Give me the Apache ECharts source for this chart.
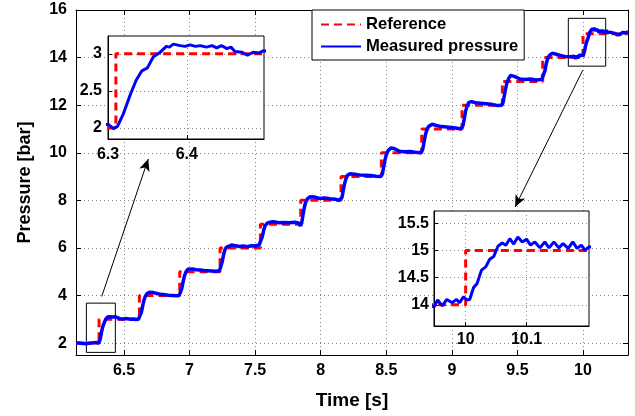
<!DOCTYPE html>
<html>
<head>
<meta charset="utf-8">
<script src="https://cdn.jsdelivr.net/npm/echarts@6/dist/echarts.min.js"></script>
<style>
html,body{margin:0;padding:0;background:#fff;}
#chart{width:635px;height:416px;}
</style>
</head>
<body>
<div id="chart"></div>
<script>
// Reference (step) signal: level holds from each time until the next one
const refTimes  = [6.134, 6.31, 6.6175, 6.925, 7.2325, 7.54, 7.8475, 8.155, 8.4625, 8.77, 9.0775, 9.385, 9.6925, 10.0, 10.343];
const refLevels = [2, 3, 4, 5, 6, 7, 8, 9, 10, 11, 12, 13, 14, 15, 15];

// Measured pressure [time s, pressure bar]
const measured = [
[6.134,2.00],[6.15,2.01],[6.17,1.99],[6.19,1.98],[6.21,1.97],[6.23,1.99],[6.25,2.00],[6.27,2.02],[6.29,2.03],
[6.300,2.05],[6.307,1.99],[6.312,2.02],[6.3195,2.19],[6.328,2.44],[6.3356,2.64],[6.343,2.77],[6.35,2.81],[6.3576,2.96],[6.365,3.01],[6.374,3.10],[6.378,3.09],[6.383,3.13],[6.3915,3.11],[6.398,3.10],[6.404,3.12],[6.411,3.10],[6.417,3.11],[6.425,3.09],[6.432,3.11],[6.438,3.08],[6.444,3.11],[6.451,3.07],[6.456,3.09],[6.461,3.03],[6.470,3.02],[6.477,2.98],[6.484,3.02],[6.491,3.01],[6.497,3.04],
[6.51,3.03],[6.53,3.02],[6.55,3.00],[6.57,3.01],[6.59,2.99],[6.61,3.00],
[6.622,3.04],[6.632,3.28],[6.642,3.55],[6.652,3.80],[6.662,3.96],[6.675,4.08],[6.695,4.14],[6.72,4.13],[6.75,4.09],[6.78,4.05],[6.81,4.03],[6.84,4.01],[6.87,4.00],[6.90,3.99],[6.92,4.00],
[6.93,4.03],[6.94,4.28],[6.95,4.56],[6.96,4.80],[6.97,4.97],[6.985,5.10],[7.00,5.15],[7.02,5.12],[7.05,5.08],[7.08,5.07],[7.11,5.05],[7.14,5.04],[7.17,5.03],[7.20,5.02],[7.228,5.04],
[7.238,5.10],[7.248,5.40],[7.258,5.68],[7.268,5.90],[7.28,6.02],[7.295,6.08],[7.32,6.12],[7.35,6.09],[7.38,6.06],[7.41,6.08],[7.44,6.05],[7.47,6.09],[7.50,6.08],[7.53,6.12],
[7.545,6.20],[7.555,6.48],[7.565,6.74],[7.575,6.92],[7.59,7.03],[7.61,7.08],[7.64,7.10],[7.68,7.06],[7.72,7.07],[7.76,7.06],[7.80,7.08],[7.83,7.05],[7.845,6.93],
[7.855,7.05],[7.865,7.40],[7.875,7.70],[7.885,7.92],[7.90,8.08],[7.92,8.15],[7.95,8.14],[7.99,8.08],[8.03,8.10],[8.07,8.07],[8.11,8.05],[8.14,8.00],[8.152,8.02],
[8.162,8.12],[8.172,8.42],[8.182,8.70],[8.192,8.90],[8.205,9.06],[8.225,9.12],[8.26,9.10],[8.30,9.06],[8.34,9.05],[8.38,9.04],[8.42,9.01],[8.455,9.00],
[8.47,9.10],[8.48,9.40],[8.49,9.70],[8.50,9.92],[8.515,10.10],[8.535,10.20],[8.56,10.18],[8.60,10.06],[8.64,10.04],[8.68,10.05],[8.72,10.02],[8.765,10.00],
[8.778,10.15],[8.788,10.45],[8.798,10.75],[8.808,10.95],[8.822,11.10],[8.85,11.20],[8.88,11.15],[8.92,11.10],[8.96,11.08],[9.00,11.06],[9.04,11.03],[9.07,11.00],
[9.085,11.15],[9.095,11.45],[9.105,11.75],[9.115,11.95],[9.13,12.12],[9.15,12.15],[9.18,12.10],[9.22,12.08],[9.26,12.06],[9.30,12.04],[9.34,11.99],[9.378,12.00],
[9.39,12.10],[9.40,12.40],[9.41,12.70],[9.42,12.95],[9.435,13.15],[9.45,13.25],[9.48,13.20],[9.52,13.10],[9.56,13.08],[9.60,13.10],[9.64,13.06],[9.685,13.08],
[9.70,13.15],[9.71,13.45],[9.72,13.75],[9.73,13.95],[9.745,14.10],[9.765,14.18],[9.79,14.15],[9.82,14.10],[9.86,14.05],[9.90,14.04],[9.93,14.06],
[9.948,13.96],[9.954,14.09],[9.9616,13.98],[9.969,14.10],[9.978,14.04],[9.985,14.10],[9.99,14.04],[9.9967,14.15],[10.002,14.09],[10.0066,14.10],[10.013,14.32],[10.0186,14.39],[10.026,14.64],[10.033,14.70],[10.0395,14.84],[10.046,14.89],[10.053,15.08],[10.06,15.14],[10.066,15.10],[10.0725,15.22],[10.079,15.12],[10.0857,15.25],[10.093,15.16],[10.10,15.21],[10.1066,15.10],[10.1137,15.16],[10.122,15.05],[10.13,15.16],[10.137,15.05],[10.145,15.16],[10.153,15.05],[10.16,15.13],[10.1685,15.04],[10.176,15.16],[10.183,15.04],[10.19,15.10],[10.196,15.01],[10.2026,15.07],
[10.22,15.05],[10.24,15.02],[10.26,14.96],[10.28,14.97],[10.30,15.05],[10.32,15.04],[10.343,15.08]
];

// Axis ranges and tick values
const mainXRange = [6.134, 10.343];
const mainYRange = [1.5, 16];
const mainXTicks = [6.5, 7, 7.5, 8, 8.5, 9, 9.5, 10];
const mainYTicks = [2, 4, 6, 8, 10, 12, 14, 16];

const inset1XRange = [6.3, 6.498];
const inset1YRange = [1.85, 3.24];
const inset1XTicks = [6.3, 6.4];
const inset1YTicks = [2, 2.5, 3];

const inset2XRange = [9.948, 10.2026];
const inset2YRange = [13.61, 15.73];
const inset2XTicks = [10, 10.1];
const inset2YTicks = [14, 14.5, 15, 15.5];

// Zoom boxes [t1, p1, t2, p2] and arrows [tFrom, pFrom, tTo, pTo] in data units
const zoomBoxes = [[6.213, 1.61, 6.434, 3.68], [9.888, 13.64, 10.173, 15.65]];
const zoomArrows = [[6.33, 3.96, 6.685, 9.74], [9.998, 13.47, 9.482, 7.72]];

const FONT = 'Liberation Sans, Arial, Helvetica, sans-serif';
const refData = refTimes.map((t, i) => [t, refLevels[i]]);

const chart = echarts.init(document.getElementById('chart'), null, {renderer: 'canvas'});

const gridLine = {show: true, lineStyle: {color: '#8a8a8a', width: 1, type: [1, 3]}};
const lbl = {fontFamily: FONT, fontWeight: 'bold', fontSize: 16, color: '#000'};

function valAxis(opts) {
  return Object.assign({
    type: 'value',
    axisLine: {show: true, onZero: false, lineStyle: {color: '#000', width: 1}},
    splitLine: gridLine,
  }, opts);
}

const option = {
  animation: false,
  backgroundColor: '#fff',
  grid: [
    {left: 76, top: 10, right: 7, bottom: 61, show: false},
    {left: 108, top: 36, width: 156, height: 103, show: true, backgroundColor: '#fff', borderColor: '#000', borderWidth: 1, z: 10},
    {left: 434, top: 211, width: 155, height: 115, show: true, backgroundColor: '#fff', borderColor: '#000', borderWidth: 1, z: 10}
  ],
  legend: {
    left: 312, top: 10, orient: 'vertical',
    padding: [6, 6, 5, 8], itemGap: 5, itemWidth: 40, itemHeight: 14,
    backgroundColor: '#fff', borderColor: '#000', borderWidth: 1,
    itemStyle: {opacity: 0},
    textStyle: {fontFamily: FONT, fontWeight: 'bold', fontSize: 16.6, color: '#000'},
    data: ['Reference', 'Measured pressure'],
    z: 20
  },
  xAxis: [
    valAxis({gridIndex: 0, min: mainXRange[0], max: mainXRange[1],
      name: 'Time [s]', nameLocation: 'middle', nameGap: 36,
      nameTextStyle: {fontFamily: FONT, fontWeight: 'bold', fontSize: 19, color: '#000'},
      axisTick: {inside: true, length: 5, customValues: mainXTicks, lineStyle: {color: '#000'}},
      axisLabel: Object.assign({customValues: mainXTicks, margin: 8}, lbl)}),
    valAxis({gridIndex: 0, position: 'top', min: mainXRange[0], max: mainXRange[1],
      splitLine: {show: false},
      axisTick: {inside: true, length: 5, customValues: mainXTicks, lineStyle: {color: '#000'}},
      axisLabel: {show: false}}),
    valAxis({gridIndex: 1, min: inset1XRange[0], max: inset1XRange[1], z: 11,
      axisTick: {inside: true, length: 4, customValues: inset1XTicks, lineStyle: {color: '#000'}},
      axisLabel: Object.assign({customValues: inset1XTicks, margin: 8, showMinLabel: true}, lbl)}),
    valAxis({gridIndex: 2, min: inset2XRange[0], max: inset2XRange[1], z: 11,
      axisTick: {inside: true, length: 4, customValues: inset2XTicks, lineStyle: {color: '#000'}},
      axisLabel: Object.assign({customValues: inset2XTicks, margin: 6}, lbl)})
  ],
  yAxis: [
    valAxis({gridIndex: 0, min: mainYRange[0], max: mainYRange[1],
      name: 'Pressure [bar]', nameLocation: 'middle', nameGap: 42,
      nameTextStyle: {fontFamily: FONT, fontWeight: 'bold', fontSize: 18, color: '#000'},
      axisTick: {inside: true, length: 5, customValues: mainYTicks, lineStyle: {color: '#000'}},
      axisLabel: Object.assign({customValues: mainYTicks, margin: 9}, lbl)}),
    valAxis({gridIndex: 0, position: 'right', min: mainYRange[0], max: mainYRange[1],
      splitLine: {show: false},
      axisTick: {inside: true, length: 5, customValues: mainYTicks, lineStyle: {color: '#000'}},
      axisLabel: {show: false}}),
    valAxis({gridIndex: 1, min: inset1YRange[0], max: inset1YRange[1], z: 11,
      axisTick: {inside: true, length: 4, customValues: inset1YTicks, lineStyle: {color: '#000'}},
      axisLabel: Object.assign({customValues: inset1YTicks, margin: 6}, lbl)}),
    valAxis({gridIndex: 2, min: inset2YRange[0], max: inset2YRange[1], z: 11,
      axisTick: {inside: true, length: 4, customValues: inset2YTicks, lineStyle: {color: '#000'}},
      axisLabel: Object.assign({customValues: inset2YTicks, margin: 5}, lbl)})
  ],
  series: [
    {name: 'Reference', type: 'line', xAxisIndex: 0, yAxisIndex: 0, data: refData, step: 'end',
      symbol: 'none', lineStyle: {color: '#ff0000', width: 3, type: [8, 5]}, itemStyle: {color: '#ff0000'}, z: 2},
    {name: 'Measured pressure', type: 'line', xAxisIndex: 0, yAxisIndex: 0, data: measured,
      symbol: 'none', lineStyle: {color: '#0000ff', width: 3.5}, itemStyle: {color: '#0000ff'}, z: 3,
      markArea: {silent: true, itemStyle: {color: 'rgba(0,0,0,0)', borderColor: '#000', borderWidth: 1},
        data: zoomBoxes.map(b => [{coord: [b[0], b[1]]}, {coord: [b[2], b[3]]}])},
      markLine: {silent: true, symbol: ['none', 'arrow'], symbolSize: [8, 12],
        label: {show: false}, lineStyle: {color: '#000', width: 1, type: 'solid'},
        data: zoomArrows.map(a => [{coord: [a[0], a[1]]}, {coord: [a[2], a[3]]}])}},
    {name: 'Reference', type: 'line', xAxisIndex: 2, yAxisIndex: 2, data: refData, step: 'end',
      symbol: 'none', lineStyle: {color: '#ff0000', width: 3, type: [8, 5]}, z: 12},
    {name: 'Measured pressure', type: 'line', xAxisIndex: 2, yAxisIndex: 2, data: measured,
      symbol: 'none', lineStyle: {color: '#0000ff', width: 3}, z: 13},
    {name: 'Reference', type: 'line', xAxisIndex: 3, yAxisIndex: 3, data: refData, step: 'end',
      symbol: 'none', lineStyle: {color: '#ff0000', width: 3, type: [8, 5]}, z: 12},
    {name: 'Measured pressure', type: 'line', xAxisIndex: 3, yAxisIndex: 3, data: measured,
      symbol: 'none', lineStyle: {color: '#0000ff', width: 3}, z: 13}
  ]
};
chart.setOption(option);
</script>
</body>
</html>
